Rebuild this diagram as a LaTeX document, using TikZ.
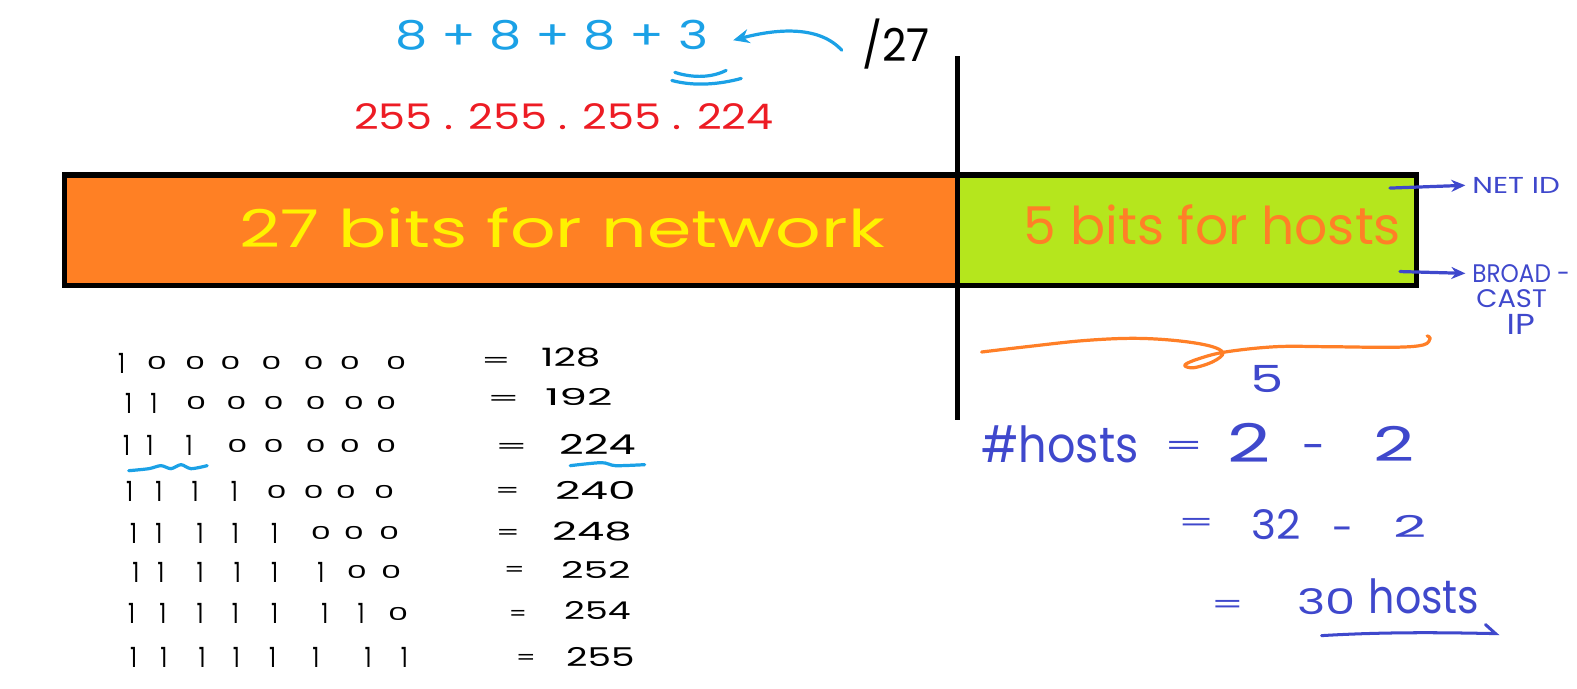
\documentclass[tikz,border=0pt]{standalone}
\usepackage{fontspec}
\setmainfont{Poppins}
\usepackage{graphicx}
\usetikzlibrary{arrows.meta}
\definecolor{orfill}{HTML}{FF8024}
\definecolor{grfill}{HTML}{B5E61D}
\definecolor{yltext}{HTML}{FFF200}
\definecolor{ortext}{HTML}{FF7F27}
\definecolor{inkblue}{HTML}{3F48CC}
\definecolor{inkcyan}{HTML}{1BA1E6}
\definecolor{inkred}{HTML}{ED1C24}
\newlength\pxu
\setlength\pxu{0.5pt}
\newcommand\fit[3]{\resizebox*{#1\pxu}{#2\pxu}{#3}}
\newcommand\dashfit[1]{\resizebox{#1\pxu}{!}{-}}
\newcommand\bitglyph[2]{\ifnum#1>#2\relax\fit{20}{13}{0}\else\fit{7}{20}{1}\fi}
\begin{document}
\begin{tikzpicture}[x=0.5pt,y=-0.5pt,
  every node/.style={inner sep=0pt,outer sep=0pt},
  txt/.style={anchor=center},
  boxpart/.style={draw=black,line width=2.5pt,anchor=north west,minimum height=55pt},
  bluearrow/.style={draw=inkblue,line width=1.6pt,line cap=round,-{Stealth[length=7pt,width=6pt]}},
  cyanpen/.style={draw=inkcyan,line width=1.6pt,line cap=round},
  bluepen/.style={draw=inkblue,line width=1.5pt,line cap=round},
  orangepen/.style={draw=ortext,line width=1.6pt,line cap=round,line join=round}]
\useasboundingbox (0,0) rectangle (1568,685);

% bit-field bar
\node[boxpart,fill=orfill,minimum width=444pt] (netbox) at (64,174) {};
\node[boxpart,fill=grfill,minimum width=228pt] (hostbox) at (952,174) {};
\coordinate (divtop) at (952,56);
\coordinate (divbot) at (952,418);
\draw[line width=2.5pt] (divtop) -- (divbot);

\node[txt,text=yltext] (nettext) at (559,227) {\fit{642}{40}{27 bits for network}};
\node[txt,text=ortext] (hosttext) at (1205.5,224) {\fit{375}{40}{5 bits for hosts}};

% top formulas
\node[txt,text=inkcyan] (sum) at (548.5,35) {\fit{311}{30}{8 + 8 + 8 + 3}};
\node[txt] (prefix) at (891,44) {\fit{67}{50}{/27}};
\node[txt,text=inkred] (mask) at (560.5,116) {\fit{417}{26}{255 . 255 . 255 . 224}};
\coordinate (arrtail) at (837,50);
\coordinate (arrhead) at (729,40);
\draw[cyanpen,-{Stealth[length=8pt,width=7pt]}] (arrtail) .. controls (815,26) and (775,28) .. (arrhead);
\coordinate (ua1) at (671,72);
\coordinate (ua2) at (722,70);
\coordinate (ub1) at (668,80);
\coordinate (ub2) at (737,78);
\draw[cyanpen] (ua1) .. controls (690,78) and (708,77) .. (ua2);
\draw[cyanpen] (ub1) .. controls (690,86) and (715,84) .. (ub2);

% labels at right
\node[txt,text=inkblue] (netid) at (1507.5,184) {\fit{87}{16}{NET ID}};
\node[txt,text=inkblue] (bcast1) at (1512.5,272) {\fit{97}{18}{BROAD -}};
\node[txt,text=inkblue] (bcast2) at (1503,297) {\fit{70}{18}{CAST}};
\node[txt,text=inkblue] (bcast3) at (1512,323) {\fit{28}{20}{IP}};
\coordinate (netstart) at (1382,187);
\coordinate (bcstart) at (1392,270);
\draw[bluearrow,shorten >=3.5pt] (netstart) -- (netid.west);
\draw[bluearrow,shorten >=3.5pt] (bcstart) -- (bcast1.west);

% orange brace
\draw[orangepen] plot[smooth,tension=0.6] coordinates {(976,350) (1021,344.7) (1077,338.7) (1127,336.4) (1170,338.7) (1203,344) (1216,351) (1206,359.6) (1187,365.6) (1178,362.9) (1193,356.3) (1220,349.7) (1269,344.7) (1319,344.7) (1385,345.3) (1415,343) (1422,336.4) (1419,334)};

% host count
\node[txt,text=inkblue] (expo) at (1259.5,376.5) {\fit{33}{27}{5}};
\node[txt,text=inkblue] (hostsw) at (1054,441.5) {\fit{156}{37}{\#hosts}};
\node[txt,text=inkblue] (eqa) at (1177,445.5) {\fit{40}{14}{=}};
\node[txt,text=inkblue] (twoa) at (1241.5,440.5) {\fit{43}{39}{2}};
\node[txt,text=inkblue] (mina) at (1306.5,450) {\dashfit{23}};
\node[txt,text=inkblue] (twob) at (1386.5,441.5) {\fit{41}{35}{2}};
\node[txt,text=inkblue] (eqb) at (1189.5,521.5) {\fit{37}{13}{=}};
\node[txt,text=inkblue] (thirtytwo) at (1268.5,522) {\fit{49}{30}{32}};
\node[txt,text=inkblue] (minb) at (1335.5,531.5) {\dashfit{21}};
\node[txt,text=inkblue] (twoc) at (1402.5,523) {\fit{33}{22}{2}};
\node[txt,text=inkblue] (eqc) at (1220.5,603) {\fit{33}{13}{=}};
\node[txt,text=inkblue] (thirty) at (1319,598) {\fit{58}{26}{30}};
\node[txt,text=inkblue] (hostsw2) at (1416,592.5) {\fit{110}{35}{hosts}};
\coordinate (ul1) at (1314,632);
\coordinate (ul2) at (1487,630);
\coordinate (ul3) at (1477,621);
\draw[bluepen] (ul1) .. controls (1380,628) and (1440,629) .. (ul2) -- (ul3);

% binary table
\foreach \r/\y/\xs in {
  1/361/{121,156,194,229,270,312,348,394},
  2/401/{128,153,195,235,272,314,352,384},
  3/443/{126,149,188,236,272,314,348,384},
  4/489/{129,158,194,233,275,312,344,382},
  5/530/{133,158,199,234,273,319,352,387},
  6/569/{135,160,199,236,273,319,355,389},
  7/610/{131,162,199,234,273,323,359,396},
  8/654/{133,163,201,235,271,314,366,402}}{
  \foreach \x [count=\i] in \xs {
    \node[txt] (b\r-\i) at (\x,\y) {\bitglyph{\i}{\r}};
  }
}
\foreach \r/\ex/\ew/\ey/\nx/\nw/\ny/\nh/\val in {
  1/493/30/360/567.5/59/355.5/19/128,
  2/500.5/33/398/575.5/67/394.5/17/192,
  3/508.5/33/446/594/76/441.5/20/224,
  4/504.5/25/489.5/592/80/488/18/240,
  5/505/24/531/588.5/79/528.5/19/248,
  6/511.5/21/568/592.5/69/566.5/17/252,
  7/515/18/611.5/594/66/607/18/254,
  8/523/20/656/597/68/653.5/19/255}{
  \node[txt] (eq\r) at (\ex,\ey) {\fit{\ew}{10}{=}};
  \node[txt] (val\r) at (\nx,\ny) {\fit{\nw}{\nh}{\val}};
}
\draw[cyanpen] plot[smooth] coordinates {(128,468) (148,466) (160,463) (170,466) (180,462) (190,466) (206,463)};
\draw[cyanpen] plot[smooth] coordinates {(567,463) (598,460) (612,463) (641,462)};
\end{tikzpicture}
\end{document}
